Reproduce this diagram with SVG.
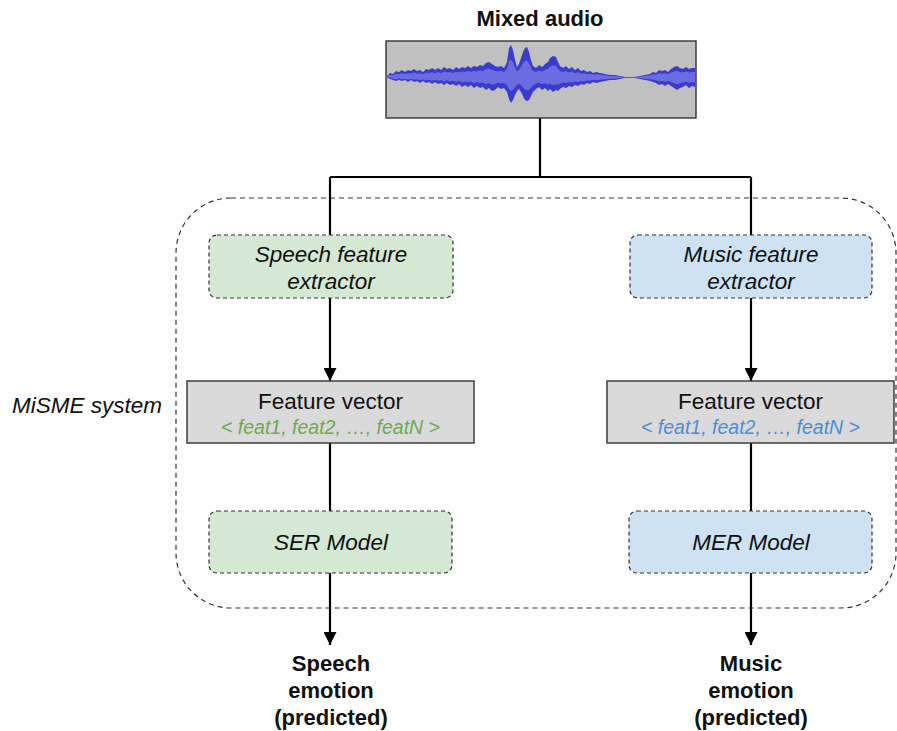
<svg xmlns="http://www.w3.org/2000/svg" width="897" height="731" viewBox="0 0 897 731">
  <style>
    .t { font-family: "Liberation Sans", Arial, Helvetica, sans-serif; fill: #111; text-anchor: middle; }
    .b { font-weight: bold; font-size: 22px; }
    .i { font-style: italic; font-size: 22.5px; }
    .r { font-size: 22.5px; }
    .v { font-style: italic; font-size: 19.5px; }
    .dash { stroke: #333; stroke-width: 1.2; stroke-dasharray: 4 3; }
    .green { fill: #d5e8d4; }
    .blue { fill: #cfe2f3; }
    .fv { fill: #dadada; stroke: #333; stroke-width: 1.4; }
    .wire { stroke: #000; stroke-width: 2.2; fill: none; }
  </style>
  <defs>
    <marker id="arrow" markerUnits="userSpaceOnUse" markerWidth="13" markerHeight="13" refX="13" refY="6.5" orient="auto">
      <path d="M0,0 L13,6.5 L0,13 z" fill="#000"/>
    </marker>
    <!-- waveform envelope, centred on y=77 -->
    <path id="wave" d="M387,76 L390,73 L393,74 L396,71 L399,72 L402,70 L405,72 L408,70 L411,71 L414,69 L417,71 L420,70 L423,72 L426,69 L429,70 L432,68 L435,70 L438,68 L441,70 L444,67 L447,69 L450,68 L453,70 L456,67 L459,69 L462,67 L465,68 L468,66 L471,68 L474,66 L477,67 L480,65 L483,66 L486,63 L489,62 L492,64 L495,66 L498,67 L501,66 L504,68 L507,62 L509,48 L511,45 L513,50 L515,60 L517,67 L519,64 L521,58 L523,52 L525,48 L527,47 L529,52 L531,60 L533,66 L536,68 L539,65 L542,67 L545,64 L548,62 L550,58 L553,56 L556,57 L558,62 L560,66 L563,68 L566,66 L569,69 L572,67 L575,70 L578,68 L581,71 L584,70 L587,72 L590,71 L593,73 L596,72 L600,73 L605,74 L610,75 L615,75 L620,76 L625,77 L630,77 L635,77 L640,76 L645,75 L650,74 L653,72 L656,73 L659,70 L662,71 L665,70 L668,72 L671,69 L674,67 L677,66 L680,68 L683,69 L686,67 L689,69 L692,68 L695,68 L695,87 L692,86 L689,88 L686,85 L683,87 L680,88 L677,90 L674,88 L671,86 L668,84 L665,86 L662,84 L659,85 L656,83 L653,82 L650,81 L645,80 L640,79 L635,78 L630,78 L625,78 L620,79 L615,80 L610,80 L605,81 L600,82 L596,83 L593,82 L590,84 L587,83 L584,85 L581,84 L578,86 L575,85 L572,87 L569,86 L566,88 L563,87 L560,89 L558,91 L556,90 L553,92 L550,89 L548,91 L545,88 L542,90 L539,87 L536,89 L533,92 L531,96 L529,100 L527,101 L525,100 L523,96 L521,92 L519,89 L517,91 L515,95 L513,100 L511,103 L509,99 L507,92 L504,88 L501,89 L498,87 L495,90 L492,91 L489,88 L486,90 L483,87 L480,88 L477,86 L474,88 L471,85 L468,87 L465,85 L462,87 L459,84 L456,86 L453,84 L450,85 L447,83 L444,85 L441,83 L438,84 L435,82 L432,84 L429,82 L426,83 L423,81 L420,83 L417,81 L414,82 L411,80 L408,82 L405,80 L402,81 L399,80 L396,81 L393,80 L390,79 L387,78 z"/>
  </defs>

  <!-- system boundary -->
  <rect x="176" y="198" width="720" height="410" rx="55" fill="none" stroke="#333" stroke-width="1.2" stroke-dasharray="5 4"/>
  <text class="t i" x="87" y="413">MiSME system</text>

  <!-- connectors -->
  <g id="connectors">
    <path class="wire" d="M540,118 V177 M330,177 H751 M330,177 V235 M751,177 V235"/>
    <line class="wire" x1="330" y1="298" x2="330" y2="381" marker-end="url(#arrow)"/>
    <line class="wire" x1="751" y1="298" x2="751" y2="381" marker-end="url(#arrow)"/>
    <line class="wire" x1="330" y1="443" x2="330" y2="511"/>
    <line class="wire" x1="751" y1="443" x2="751" y2="511"/>
    <line class="wire" x1="330" y1="573" x2="330" y2="645" marker-end="url(#arrow)"/>
    <line class="wire" x1="751" y1="573" x2="751" y2="645" marker-end="url(#arrow)"/>
  </g>

  <!-- audio input -->
  <g id="mixed-audio">
    <text class="t b" x="540" y="26">Mixed audio</text>
    <rect x="386" y="41" width="310" height="77" fill="#c0c0c0" stroke="#333" stroke-width="1.4"/>
    <use href="#wave" fill="#3b3bcc"/>
    <use href="#wave" fill="#6c6ce2" transform="translate(0,77) scale(1,0.55) translate(0,-77)"/>
  </g>

  <!-- speech branch -->
  <g id="speech-extractor">
    <rect class="green dash" x="209" y="235" width="244" height="63" rx="8"/>
    <text class="t i" x="331" y="262">Speech feature</text>
    <text class="t i" x="331" y="289">extractor</text>
  </g>
  <g id="speech-vector">
    <rect class="fv" x="187" y="381" width="287" height="62"/>
    <text class="t r" x="330.5" y="409">Feature vector</text>
    <text class="t v" x="330.5" y="434" style="fill:#6aaa50">&lt; feat1, feat2, …, featN &gt;</text>
  </g>
  <g id="ser-model">
    <rect class="green dash" x="209" y="511" width="243" height="62" rx="8"/>
    <text class="t i" x="331" y="550">SER Model</text>
  </g>
  <g id="speech-emotion">
    <text class="t b" x="331" y="671">Speech</text>
    <text class="t b" x="331" y="698">emotion</text>
    <text class="t b" x="331" y="725">(predicted)</text>
  </g>

  <!-- music branch -->
  <g id="music-extractor">
    <rect class="blue dash" x="630" y="235" width="242" height="63" rx="8"/>
    <text class="t i" x="751" y="262">Music feature</text>
    <text class="t i" x="751" y="289">extractor</text>
  </g>
  <g id="music-vector">
    <rect class="fv" x="607" y="381" width="287" height="62"/>
    <text class="t r" x="750.5" y="409">Feature vector</text>
    <text class="t v" x="750.5" y="434" style="fill:#4a8fd6">&lt; feat1, feat2, …, featN &gt;</text>
  </g>
  <g id="mer-model">
    <rect class="blue dash" x="629" y="511" width="243" height="62" rx="8"/>
    <text class="t i" x="751" y="550">MER Model</text>
  </g>
  <g id="music-emotion">
    <text class="t b" x="751" y="671">Music</text>
    <text class="t b" x="751" y="698">emotion</text>
    <text class="t b" x="751" y="725">(predicted)</text>
  </g>
</svg>
